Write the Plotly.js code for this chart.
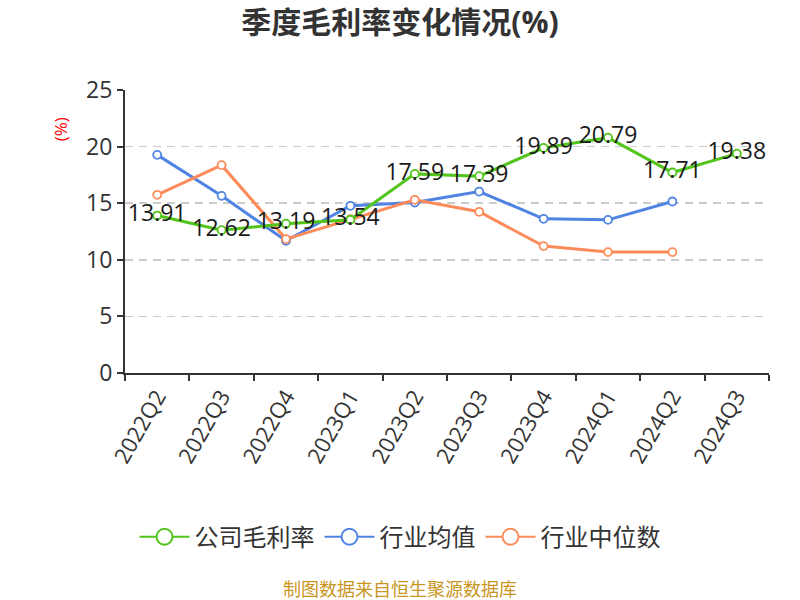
<!DOCTYPE html>
<html>
<head>
<meta charset="utf-8">
<script src="https://cdn.plot.ly/plotly-3.0.1.min.js"></script>
<style>
  html, body { margin: 0; padding: 0; background: #fff; }
  #chart { width: 800px; height: 600px; }
</style>
</head>
<body>
<div id="chart"></div>
<script>
// quarters on the x axis
const quarters = ['2022Q2', '2022Q3', '2022Q4', '2023Q1', '2023Q2', '2023Q3', '2023Q4', '2024Q1', '2024Q2', '2024Q3'];
// company gross margin, %
const companyMargin = [13.91, 12.62, 13.19, 13.54, 17.59, 17.39, 19.89, 20.79, 17.71, 19.38];
// industry average, %
const industryMean = [19.27, 15.65, 11.68, 14.77, 15.06, 16.03, 13.62, 13.53, 15.15, null];
// industry median, %
const industryMedian = [15.74, 18.36, 11.83, 13.59, 15.30, 14.24, 11.21, 10.68, 10.68, null];

const seriesNames = ['公司毛利率', '行业均值', '行业中位数'];
const seriesColors = ['#52c41a', '#4f84e3', '#fd8b5a'];

const fontFamily = '"Open Sans", "Noto Sans CJK SC", sans-serif';

function lineTrace(name, y, color, withText) {
    let t = {
        x: quarters,
        y: y,
        name: name,
        type: 'scatter',
        mode: withText ? 'lines+markers+text' : 'lines+markers',
        line: { color: color, width: 3 },
        marker: { size: 8, color: '#ffffff', line: { color: color, width: 1.8 } },
        cliponaxis: false,
        showlegend: false,
    };
    if (withText) {
        t.text = y.map(v => v.toFixed(2));
        t.textposition = 'middle center';
        t.textfont = { family: fontFamily, size: 23, color: '#1a1a1a' };
    }
    return t;
}

// empty traces that only give the legend its bigger circles
function legendTrace(name, color, rank) {
    return {
        x: [null],
        y: [null],
        name: name,
        type: 'scatter',
        mode: 'lines+markers',
        line: { color: color, width: 2 },
        marker: { size: 16, color: '#ffffff', line: { color: color, width: 2 } },
        legendrank: rank,
    };
}

const data = [
    lineTrace(seriesNames[1], industryMean, seriesColors[1], false),
    lineTrace(seriesNames[2], industryMedian, seriesColors[2], false),
    lineTrace(seriesNames[0], companyMargin, seriesColors[0], true),
    legendTrace(seriesNames[0], seriesColors[0], 1),
    legendTrace(seriesNames[1], seriesColors[1], 2),
    legendTrace(seriesNames[2], seriesColors[2], 3),
];

const layout = {
    width: 800,
    height: 600,
    margin: { l: 125, r: 31, t: 90, b: 227, pad: 0 },
    paper_bgcolor: '#ffffff',
    plot_bgcolor: '#ffffff',
    font: { family: fontFamily, color: '#333333' },
    title: {
        text: '<b>季度毛利率变化情况(%)</b>',
        x: 0.5,
        xanchor: 'center',
        y: 0.963,
        yanchor: 'middle',
        font: { family: fontFamily, size: 30, color: '#333333' },
    },
    xaxis: {
        type: 'category',
        range: [-0.5, 9.5],
        showline: true,
        linecolor: '#333333',
        linewidth: 2,
        ticks: 'outside',
        tickson: 'boundaries',
        ticklen: 6,
        tickwidth: 2,
        tickcolor: '#333333',
        tickangle: -60,
        tickfont: { family: fontFamily, size: 22, color: '#333333' },
        showgrid: false,
        zeroline: false,
    },
    yaxis: {
        range: [0, 25],
        dtick: 5,
        showline: true,
        linecolor: '#333333',
        linewidth: 2,
        ticks: 'outside',
        ticklen: 6,
        tickwidth: 2,
        tickcolor: '#333333',
        tickfont: { family: fontFamily, size: 23, color: '#333333' },
        showgrid: true,
        gridcolor: '#cccccc',
        griddash: '8px,6px',
        gridwidth: 1.5,
        zeroline: false,
    },
    showlegend: true,
    legend: {
        orientation: 'h',
        x: (400 - 125) / 644,
        xanchor: 'center',
        y: -0.58,
        yanchor: 'middle',
        traceorder: 'normal',
        itemwidth: 50,
        font: { family: fontFamily, size: 24, color: '#333333' },
    },
    annotations: [{
        text: '(%)',
        xref: 'paper', yref: 'paper',
        x: -0.1, y: 0.86,
        xanchor: 'center', yanchor: 'middle',
        textangle: -90,
        showarrow: false,
        font: { family: fontFamily, size: 17, color: '#ff0000' },
    }, {
        text: '制图数据来自恒生聚源数据库',
        xref: 'paper', yref: 'paper',
        x: (400 - 125) / 644, y: -0.765,
        xanchor: 'center', yanchor: 'middle',
        showarrow: false,
        font: { family: fontFamily, size: 18, color: '#c8961e' },
    }],
};

const config = { staticPlot: true, displayModeBar: false };

Plotly.newPlot('chart', data, layout, config);
</script>
</body>
</html>
